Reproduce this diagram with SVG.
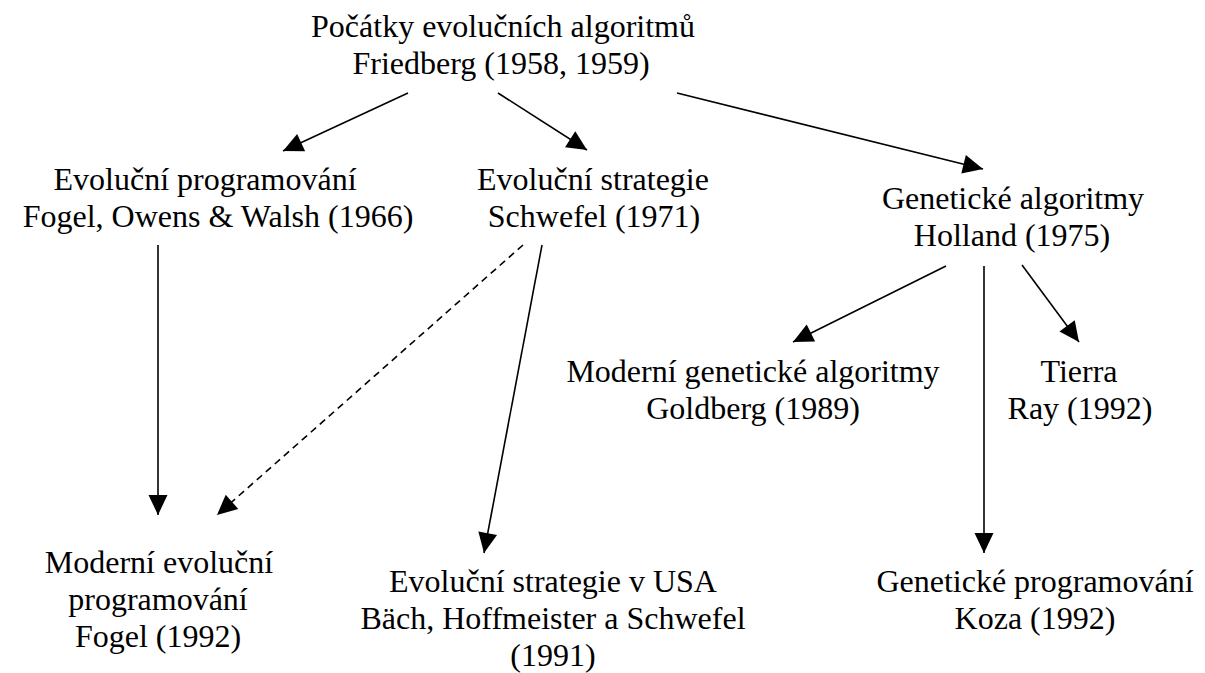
<svg xmlns="http://www.w3.org/2000/svg" width="1205" height="673" viewBox="0 0 1205 673">
<style>
text{font-family:"Liberation Serif","Times New Roman",serif;font-size:32px;fill:#000;text-anchor:middle}
.c{stroke:#000;stroke-width:1.6;fill:none;marker-end:url(#ah)}
.d{stroke-dasharray:7,5}
</style>
<defs>
<marker id="ah" markerUnits="userSpaceOnUse" markerWidth="20" markerHeight="19" refX="20" refY="9.5" orient="auto" overflow="visible">
<path d="M0,0 L20,9.5 L0,19 z" fill="#000"/>
</marker>
</defs>
<rect width="1205" height="673" fill="#fff"/>
<g id="connectors">
<line class="c" x1="408" y1="93" x2="283" y2="151"/>
<line class="c" x1="498" y1="93" x2="587" y2="150"/>
<line class="c" x1="677" y1="93" x2="983" y2="169"/>
<line class="c" x1="158" y1="245" x2="158" y2="515"/>
<line class="c d" x1="523" y1="245" x2="217" y2="515"/>
<line class="c" x1="542" y1="245" x2="484" y2="553"/>
<line class="c" x1="946" y1="266" x2="793" y2="342"/>
<line class="c" x1="984" y1="266" x2="984" y2="553"/>
<line class="c" x1="1022" y1="265" x2="1079" y2="342"/>
</g>
<g id="root">
<text x="503" y="37">Počátky evolučních algoritmů</text>
<text x="501" y="74">Friedberg (1958, 1959)</text>
</g>
<g id="evol-prog">
<text x="205" y="190">Evoluční programování</text>
<text x="218" y="227">Fogel, Owens &amp; Walsh (1966)</text>
</g>
<g id="evol-strat">
<text x="593" y="190">Evoluční strategie</text>
<text x="594" y="227">Schwefel (1971)</text>
</g>
<g id="gen-alg">
<text x="1013" y="209">Genetické algoritmy</text>
<text x="1012" y="246">Holland (1975)</text>
</g>
<g id="mod-gen-alg">
<text x="753" y="382">Moderní genetické algoritmy</text>
<text x="753" y="419">Goldberg (1989)</text>
</g>
<g id="tierra">
<text x="1079" y="382">Tierra</text>
<text x="1080" y="419">Ray (1992)</text>
</g>
<g id="mod-evol-prog">
<text x="159" y="573">Moderní evoluční</text>
<text x="158" y="610">programování</text>
<text x="158" y="647">Fogel (1992)</text>
</g>
<g id="evol-strat-usa">
<text x="553" y="592">Evoluční strategie v USA</text>
<text x="553" y="629">Bäch, Hoffmeister a Schwefel</text>
<text x="553" y="666">(1991)</text>
</g>
<g id="gen-prog">
<text x="1035" y="592">Genetické programování</text>
<text x="1035" y="629">Koza (1992)</text>
</g>
</svg>
